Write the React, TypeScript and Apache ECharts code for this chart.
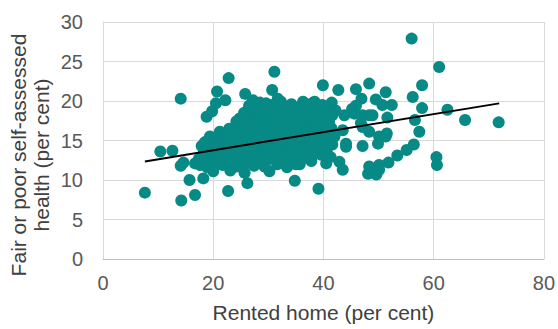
import React, { useEffect, useRef } from "react";
import * as echarts from "echarts";

// Rented home (per cent) for each area
const rentedHome: number[] = [
  7.6, 10.4, 12.6, 14.1, 14.2, 16.7, 15.7, 14.1, 14.6, 16.7, 17.6, 18.2, 20.0, 17.9, 18.5, 19.4, 21.2, 22.1, 18.8, 19.8,
  20.5, 20.7, 22.8, 22.2, 24.8, 25.8, 27.2, 30.7, 31.1, 31.7, 27.8, 29.0, 29.6, 23.6, 22.7, 26.2, 25.7, 23.1, 29.3, 30.2,
  34.8, 39.1, 35.7, 39.6, 40.5, 42.9, 43.5, 48.1, 49.6, 50.1, 51.8, 53.4, 55.1, 56.4, 47.1, 49.9, 60.5, 60.6, 56.0, 61.0,
  57.9, 56.2, 57.9, 62.5, 65.7, 71.8, 56.6, 48.3, 42.7, 45.9, 51.3, 46.9, 49.5, 52.4, 45.9, 45.2, 50.7, 51.6, 48.3, 43.8,
  47.1, 51.5, 48.3, 43.5, 40.5, 57.4, 51.3, 44.1, 40.5, 47.1, 48.9, 39.9, 36.3, 38.4, 45.6, 46.8, 50.1, 48.3, 50.1, 44.1,
  26.5, 28.5, 30.4, 32.3, 34.2, 36.0, 37.9, 39.8, 41.5,
  25.6, 27.5, 29.5, 31.3, 33.1, 35.0, 36.8, 38.7, 40.6, 42.2,
  24.2, 26.0, 27.9, 29.8, 31.7, 33.5, 35.4, 37.2, 39.1, 41.0,
  22.9, 24.8, 26.6, 28.5, 30.3, 32.2, 34.1, 35.9, 37.8, 39.6, 41.4,
  20.7, 23.6, 25.4, 27.3, 29.1, 31.0, 32.9, 34.7, 36.6, 38.4, 40.2, 42.0,
  19.3, 21.2, 23.0, 24.9, 26.8, 28.6, 30.5, 32.3, 34.2, 36.0, 37.9, 39.7, 41.6,
  18.3, 20.1, 22.0, 23.9, 25.7, 27.6, 29.4, 31.3, 33.2, 35.0, 36.9, 38.7, 40.6,
  17.4, 19.2, 21.1, 22.9, 24.8, 26.6, 28.5, 30.3, 32.2, 34.1, 36.0, 37.8, 41.3,
  18.9, 21.7, 24.3, 27.4, 31.6, 33.4,
  27.4, 29.4, 31.3, 33.2, 35.1, 36.9, 38.8, 40.7,
  26.5, 28.4, 30.4, 32.2, 34.0, 35.9, 37.7, 39.6, 41.6,
  25.0, 27.0, 28.9, 30.8, 32.6, 34.5, 36.3, 38.2, 40.1,
  23.7, 25.6, 27.5, 29.4, 31.2, 33.0, 35.0, 36.9, 38.7, 40.6,
  21.6, 22.6, 24.4, 26.3, 28.2, 30.0, 31.9, 33.8, 35.6, 37.5, 39.3, 41.1,
  20.2, 22.1, 24.0, 25.9, 27.7, 29.6, 31.4, 33.3, 35.1, 37.0, 38.8,
  19.2, 21.0, 22.9, 24.8, 26.6, 28.5, 30.4, 32.2, 34.1, 36.0, 37.8,
  18.3, 20.1, 22.0, 23.8, 25.7, 29.4, 32.7, 35.0,
];

// Fair or poor self-assessed health (per cent), same order
const fairPoorHealth: number[] = [
  8.4, 13.6, 13.7, 20.3, 7.4, 8.1, 10.0, 11.8, 12.2, 12.1, 11.9, 10.2, 11.1, 14.3, 14.8, 15.5, 16.1, 15.7, 18.0, 18.7,
  19.7, 21.2, 22.9, 20.1, 17.8, 20.9, 20.1, 21.4, 23.7, 20.3, 18.9, 18.4, 19.7, 14.6, 8.6, 9.6, 10.9, 11.2, 11.7, 11.1,
  9.9, 8.9, 12.0, 13.2, 12.1, 12.3, 11.3, 10.8, 10.7, 11.3, 12.2, 13.1, 13.8, 14.5, 14.3, 14.6, 12.9, 11.9, 27.9, 24.3,
  22.0, 20.5, 19.1, 18.9, 17.6, 17.3, 17.6, 22.2, 21.4, 21.5, 21.1, 20.3, 20.2, 19.5, 19.4, 19.0, 19.5, 17.9, 18.2, 18.2,
  16.7, 15.9, 16.1, 16.3, 15.9, 16.1, 15.5, 14.6, 14.4, 18.2, 18.2, 22.0, 19.9, 19.9, 18.4, 17.2, 15.5, 11.7, 11.9, 14.2,
  19.4, 19.8, 19.5, 19.9, 19.6, 19.3, 19.7, 19.5, 19.8,
  18.5, 18.7, 18.3, 18.8, 18.6, 18.9, 18.4, 18.7, 18.5, 18.8,
  17.4, 17.7, 17.5, 17.8, 17.6, 17.3, 17.7, 17.5, 17.8, 17.4,
  16.5, 16.8, 16.4, 16.7, 16.6, 16.9, 16.5, 16.7, 16.4, 16.8, 16.6,
  15.3, 15.7, 15.5, 15.8, 15.4, 15.7, 15.5, 15.9, 15.6, 15.4, 15.7, 15.5,
  14.5, 14.7, 14.4, 14.8, 14.6, 14.3, 14.7, 14.5, 14.8, 14.4, 14.6, 14.9, 14.5,
  13.5, 13.7, 13.4, 13.8, 13.6, 13.3, 13.7, 13.5, 13.8, 13.4, 13.6, 13.9, 13.5,
  12.7, 12.4, 12.8, 12.5, 12.6, 12.9, 12.4, 12.7, 12.5, 12.8, 12.6, 12.4, 12.9,
  11.6, 11.9, 11.7, 11.8, 12.0, 11.6,
  19.1, 19.0, 19.2, 19.1, 19.0, 19.2, 19.1, 19.0,
  18.1, 18.0, 18.2, 18.1, 18.0, 18.2, 18.1, 18.0, 18.2,
  17.1, 17.0, 17.2, 17.1, 17.0, 17.2, 17.1, 17.0, 17.2,
  16.1, 16.0, 16.2, 16.1, 16.0, 16.2, 16.1, 16.0, 16.2, 16.1,
  15.1, 15.0, 15.2, 15.1, 15.0, 15.2, 15.1, 15.0, 15.2, 15.1, 15.0, 15.2,
  14.1, 14.0, 14.2, 14.1, 14.0, 14.2, 14.1, 14.0, 14.2, 14.1, 14.0,
  13.1, 13.0, 13.2, 13.1, 13.0, 13.2, 13.1, 13.0, 13.2, 13.1, 13.0,
  12.1, 12.0, 12.2, 12.1, 12.0, 12.2, 12.1, 12.0,
];

// Linear trend line end points
const trendX: number[] = [7.6, 71.9];
const trendY: number[] = [12.35, 19.7];

export default function App() {
  const ref = useRef<HTMLDivElement>(null);

  useEffect(() => {
    if (!ref.current) return;
    const chart = echarts.init(ref.current, null, { renderer: "svg" });
    const points = rentedHome.map((x, i) => [x, fairPoorHealth[i]]);
    const trend = trendX.map((x, i) => [x, trendY[i]]);
    const font = "Arial, 'Liberation Sans', sans-serif";

    chart.setOption({
      animation: false,
      grid: { left: 103, right: 13, top: 22, bottom: 70, containLabel: false },
      xAxis: {
        type: "value",
        min: 0,
        max: 80,
        interval: 20,
        axisLine: { show: true, lineStyle: { color: "#bfbfbf", width: 1 } },
        axisTick: { show: false },
        splitLine: { show: true, lineStyle: { color: "#d9d9d9", width: 1 } },
        axisLabel: { fontSize: 20, color: "#595959", fontFamily: font, margin: 14 },
        name: "Rented home (per cent)",
        nameLocation: "middle",
        nameGap: 43,
        nameTextStyle: { fontSize: 21, color: "#404040", fontFamily: font },
      },
      yAxis: {
        type: "value",
        min: 0,
        max: 30,
        interval: 5,
        axisLine: { show: true, lineStyle: { color: "#d9d9d9", width: 1 } },
        axisTick: { show: false },
        splitLine: { show: true, lineStyle: { color: "#d9d9d9", width: 1 } },
        axisLabel: { fontSize: 20, color: "#595959", fontFamily: font, margin: 20 },
      },
      graphic: [
        {
          type: "text",
          x: 30,
          y: 155,
          rotation: Math.PI / 2,
          style: {
            text: "Fair or poor self-assessed\nhealth (per cent)",
            fontSize: 21,
            fontFamily: font,
            fill: "#404040",
            align: "center",
            verticalAlign: "middle",
            lineHeight: 23,
          },
        },
      ],
      series: [
        {
          type: "scatter",
          data: points,
          symbolSize: 12,
          itemStyle: { color: "#078a86", opacity: 1 },
          z: 2,
        },
        {
          type: "line",
          data: trend,
          showSymbol: false,
          symbol: "none",
          lineStyle: { color: "#000000", width: 2 },
          z: 3,
        },
      ],
    });

    return () => chart.dispose();
  }, []);

  return (
    <div
      ref={ref}
      style={{ position: "absolute", left: 0, top: 0, width: 558, height: 329 }}
    />
  );
}
